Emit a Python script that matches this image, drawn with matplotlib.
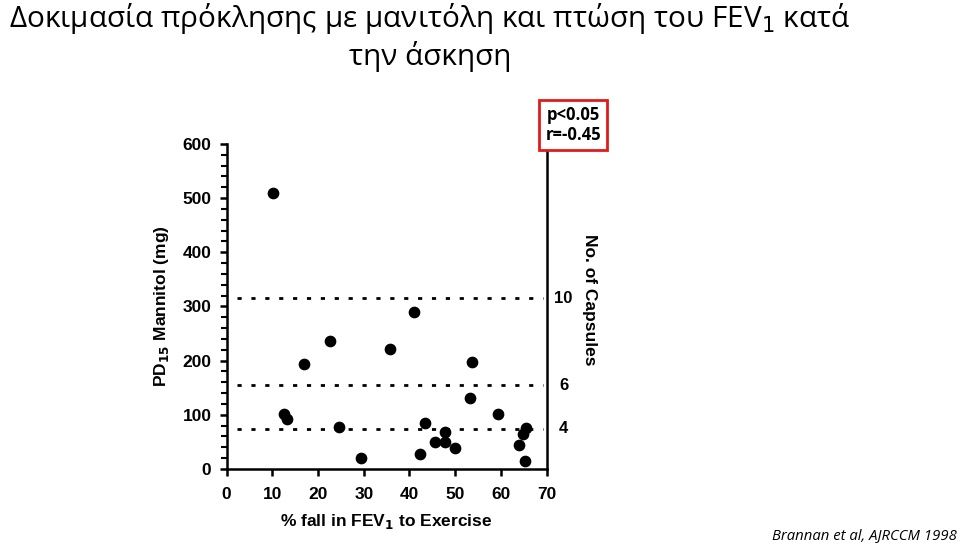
import matplotlib.pyplot as plt
from matplotlib.ticker import MultipleLocator

# % fall in FEV1 to exercise vs PD15 mannitol
fev1_fall = [10.1, 12.6, 13.3, 16.9, 22.6, 24.6, 29.4, 35.8, 41.0, 42.2, 43.3,
             45.6, 47.7, 47.8, 49.9, 53.2, 53.7, 59.3, 64.0, 64.75, 65.5, 65.3]
pd15 = [509, 101, 93, 193, 237, 77, 21, 221, 290, 28, 84,
        50, 69, 49, 38, 131, 197, 102, 44, 65, 76, 14]

capsule_levels = [315, 155, 74]
capsule_labels = ["10", "6", "4"]

title = "Δοκιμασία πρόκλησης με μανιτόλη και πτώση του FEV$_1$ κατά\nτην άσκηση"
title_font = ["Open Sans", "DejaVu Sans"]
helv = ["Liberation Sans", "DejaVu Sans"]

fig = plt.figure(figsize=(9.6, 5.44), dpi=100)
ax = fig.add_axes([0.2361, 0.1379, 0.3333, 0.5974])

ax.scatter(fev1_fall, pd15, s=55, color="black", zorder=3)

for lvl, lab in zip(capsule_levels, capsule_labels):
    ax.plot([2.2, 69.3], [lvl, lvl], color="black", lw=2,
            linestyle=(0, (1.5, 3.5)))
    ax.text(73.7, lvl, lab, ha="center", va="center", fontsize=12,
            fontweight="bold", family=helv)

ax.set_xlim(0, 70)
ax.set_ylim(0, 600)
ax.set_xticks(range(0, 71, 10))
ax.set_yticks(range(0, 601, 100))
ax.yaxis.set_minor_locator(MultipleLocator(20))
ax.spines["top"].set_visible(False)
for s in ["left", "bottom", "right"]:
    ax.spines[s].set_linewidth(1.8)
ax.tick_params(axis="both", which="major", direction="out", length=5, width=1.8,
               labelsize=12.5, pad=6)
ax.tick_params(axis="y", which="minor", direction="out", length=4, width=1.5)
ax.tick_params(axis="x", pad=8)
for lbl in ax.get_xticklabels() + ax.get_yticklabels():
    lbl.set_fontweight("bold")
    lbl.set_family(helv)

ax.set_xlabel("% fall in FEV$_\\mathbf{1}$ to Exercise", fontsize=12.5,
              fontweight="bold", family=helv, labelpad=7)
ax.set_ylabel("PD$_\\mathbf{15}$ Mannitol (mg)", fontsize=12.5,
              fontweight="bold", family=helv, labelpad=8)

ax.text(1.135, 0.52, "No. of Capsules", transform=ax.transAxes, rotation=270,
        ha="center", va="center", fontsize=12.5, fontweight="bold", family=helv)

fig.text(0.448, 0.998, title, ha="center", va="top", fontsize=21.4,
         family=title_font, linespacing=1.2)

fig.text(0.597, 0.77, "p<0.05\nr=-0.45", ha="center", va="center",
         fontsize=12, fontweight="bold", family=title_font, linespacing=1.15,
         bbox=dict(boxstyle="square,pad=0.35", facecolor="white",
                   edgecolor="#e01b1b", linewidth=2))

fig.text(0.997, 0.002, "Brannan et al, AJRCCM 1998", ha="right", va="bottom",
         fontsize=10.7, style="italic", family=title_font)

fig.savefig("out.png", dpi=100)
